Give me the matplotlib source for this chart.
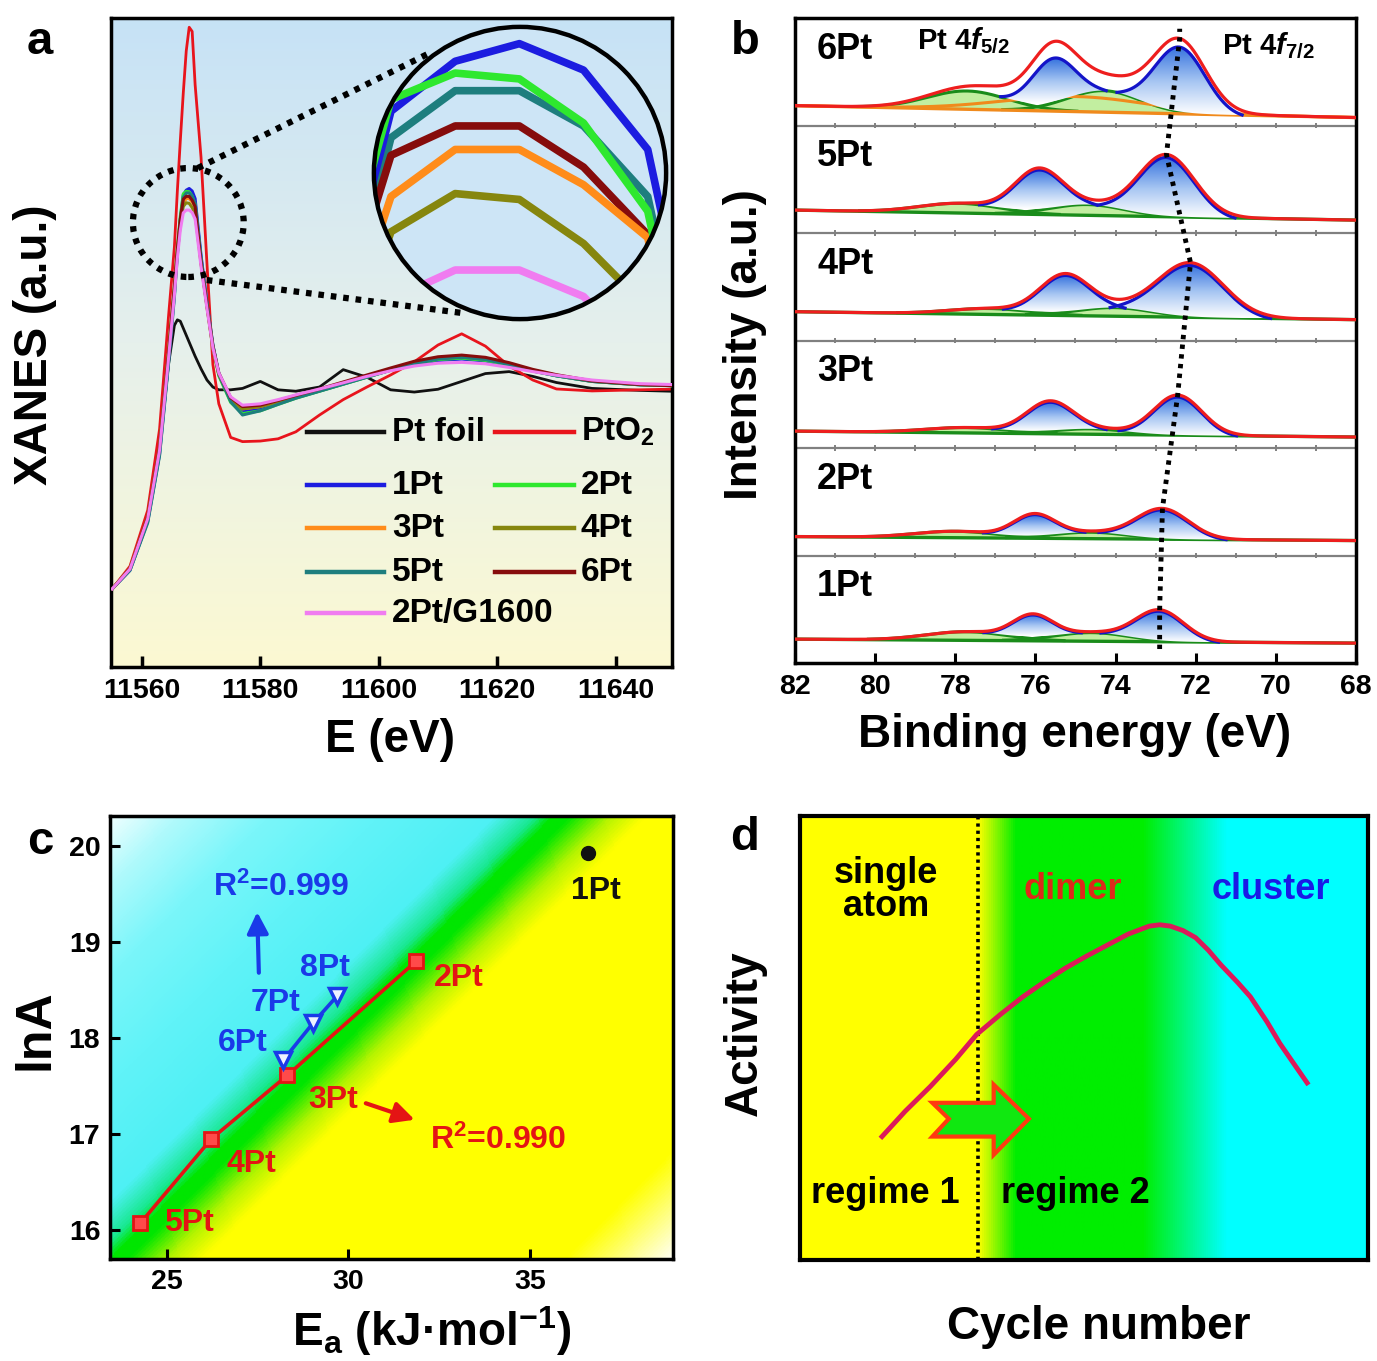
import numpy as np
import matplotlib
matplotlib.use("Agg")
import matplotlib.pyplot as plt
from matplotlib.colors import LinearSegmentedColormap
from matplotlib.patches import Ellipse, Circle, Polygon

plt.rcParams['font.family'] = ['Liberation Sans', 'DejaVu Sans']
plt.rcParams['font.weight'] = 'bold'
plt.rcParams['axes.labelweight'] = 'bold'
plt.rcParams['mathtext.fontset'] = 'custom'
plt.rcParams['mathtext.rm'] = 'Liberation Sans:bold'
plt.rcParams['mathtext.it'] = 'Liberation Sans:italic:bold'
plt.rcParams['mathtext.bf'] = 'Liberation Sans:bold'
plt.rcParams['mathtext.default'] = 'rm'

# ---------------- panel a: Pt L3-edge XANES ----------------
energy_ev = [11555, 11558, 11561, 11563, 11564.5, 11565.5, 11566, 11566.5, 11567, 11567.5,
             11568, 11568.5, 11569, 11570, 11571, 11572, 11573, 11575, 11577, 11580,
             11583, 11586, 11590, 11594, 11598, 11602, 11606, 11610, 11614, 11618,
             11622, 11626, 11630, 11636, 11644, 11651]
pt_foil = [0.279, 0.35, 0.53, 0.78, 1.08, 1.22, 1.24, 1.235, 1.21, 1.185,
           1.16, 1.135, 1.11, 1.065, 1.025, 1.0, 0.99, 0.99, 0.995, 1.02,
           0.99, 0.985, 1.0, 1.062, 1.035, 0.99, 0.982, 0.992, 1.02, 1.048,
           1.055, 1.038, 1.016, 0.995, 0.988, 0.984]
pt_o2 = [0.279, 0.36, 0.56, 0.85, 1.25, 1.5, 1.7, 1.88, 2.05, 2.2,
         2.285, 2.27, 2.08, 1.82, 1.44, 1.08, 0.94, 0.82, 0.805, 0.807,
         0.815, 0.84, 0.9, 0.955, 1.0, 1.043, 1.09, 1.15, 1.19, 1.146,
         1.075, 1.025, 0.993, 0.986, 0.99, 0.993]
xanes_1pt = [0.279, 0.345, 0.52, 0.76, 1.09, 1.33, 1.48, 1.6, 1.686, 1.703,
             1.709, 1.700, 1.673, 1.47, 1.30, 1.15, 1.05, 0.955, 0.915, 0.922,
             0.942, 0.962, 0.986, 1.011, 1.036, 1.06, 1.08, 1.095, 1.1, 1.093,
             1.077, 1.057, 1.04, 1.02, 1.008, 1.004]
xanes_2pt = [0.279, 0.35, 0.53, 0.78, 1.12, 1.36, 1.5, 1.61, 1.690, 1.699,
             1.697, 1.682, 1.652, 1.45, 1.29, 1.14, 1.04, 0.945, 0.905, 0.915,
             0.938, 0.96, 0.985, 1.01, 1.035, 1.06, 1.082, 1.098, 1.103, 1.095,
             1.078, 1.057, 1.04, 1.02, 1.008, 1.004]
xanes_3pt = [0.279, 0.352, 0.535, 0.785, 1.12, 1.35, 1.49, 1.59, 1.657, 1.673,
             1.673, 1.661, 1.643, 1.445, 1.29, 1.145, 1.045, 0.955, 0.922, 0.93,
             0.948, 0.967, 0.99, 1.015, 1.04, 1.064, 1.087, 1.103, 1.108, 1.1,
             1.083, 1.06, 1.042, 1.021, 1.009, 1.004]
xanes_4pt = [0.279, 0.352, 0.535, 0.785, 1.12, 1.35, 1.48, 1.58, 1.645, 1.658,
             1.656, 1.641, 1.619, 1.44, 1.285, 1.14, 1.045, 0.955, 0.922, 0.93,
             0.948, 0.967, 0.99, 1.015, 1.04, 1.064, 1.086, 1.102, 1.107, 1.1,
             1.083, 1.06, 1.042, 1.021, 1.009, 1.004]
xanes_5pt = [0.279, 0.345, 0.515, 0.755, 1.08, 1.32, 1.47, 1.59, 1.677, 1.693,
             1.693, 1.681, 1.657, 1.46, 1.3, 1.15, 1.045, 0.948, 0.9, 0.915,
             0.938, 0.96, 0.985, 1.01, 1.035, 1.06, 1.082, 1.1, 1.106, 1.098,
             1.08, 1.058, 1.04, 1.02, 1.008, 1.004]
xanes_6pt = [0.279, 0.352, 0.535, 0.785, 1.12, 1.36, 1.49, 1.6, 1.671, 1.681,
             1.681, 1.667, 1.644, 1.445, 1.29, 1.145, 1.05, 0.962, 0.93, 0.935,
             0.952, 0.97, 0.993, 1.018, 1.043, 1.068, 1.092, 1.108, 1.114, 1.106,
             1.087, 1.063, 1.044, 1.022, 1.009, 1.004]
xanes_g1600 = [0.279, 0.35, 0.53, 0.775, 1.1, 1.33, 1.46, 1.56, 1.622, 1.632,
               1.632, 1.623, 1.600, 1.43, 1.28, 1.14, 1.05, 0.965, 0.935, 0.94,
               0.955, 0.972, 0.993, 1.015, 1.038, 1.058, 1.075, 1.085, 1.088, 1.083,
               1.07, 1.055, 1.042, 1.025, 1.012, 1.008]

ref_names = ['Pt foil', 'PtO$_2$']
ref_colors = ['#111111', '#e8141c']
sample_names = ['1Pt', '2Pt', '3Pt', '4Pt', '5Pt', '6Pt', '2Pt/G1600']
sample_colors = ['#1c1ce0', '#2ee82e', '#ff8c1a', '#86860e', '#1e7e7e', '#860c0c', '#f07cf0']
sample_curves = [xanes_1pt, xanes_2pt, xanes_3pt, xanes_4pt, xanes_5pt, xanes_6pt, xanes_g1600]
inset_order = [4, 3, 5, 2, 0, 1, 6]  # draw order inside the zoom circle

# ---------------- panel b: Pt 4f XPS fits ----------------
xps_samples = ['1Pt', '2Pt', '3Pt', '4Pt', '5Pt', '6Pt']
f72_pos = [72.9, 72.83, 72.45, 72.13, 72.73, 72.4]
f72_amp = [0.284, 0.278, 0.37, 0.50, 0.57, 0.63]
f72_sig = [0.6, 0.65, 0.6, 0.82, 0.7, 0.64]
f52_pos = [76.07, 76.03, 75.65, 75.28, 75.93, 75.55]
f52_amp = [0.21, 0.204, 0.275, 0.35, 0.38, 0.42]
f52_sig = [0.5, 0.52, 0.58, 0.62, 0.6, 0.54]
sat1_pos = [77.73, 78.0, 77.73, 77.15, 77.9, 77.7]
sat1_amp = [0.08, 0.06, 0.05, 0.055, 0.09, 0.17]
sat2_pos = [74.6, 74.63, 74.63, 74.03, 74.7, 74.3]
sat2_amp = [0.08, 0.06, 0.05, 0.08, 0.10, 0.20]
bg_left = [0.222, 0.176, 0.157, 0.268, 0.213, 0.185]
bg_right = [0.185, 0.139, 0.102, 0.194, 0.12, 0.074]
extra_amp = [0, 0, 0, 0, 0, 0.14]
bg_colors = ['#1a8c1a'] * 5 + ['#f08a1c']

# ---------------- panel c: compensation plot ----------------
ea_red = [24.27, 26.23, 28.32, 31.87]
lna_red = [16.07, 16.95, 17.61, 18.80]
red_labels = ['5Pt', '4Pt', '3Pt', '2Pt']
ea_blue = [28.21, 29.04, 29.70]
lna_blue = [17.77, 18.16, 18.44]
blue_labels = ['6Pt', '7Pt', '8Pt']
ea_1pt, lna_1pt = 36.61, 19.92

# ---------------- panel d: activity scheme ----------------
cycle_pts = [0.1444, 0.1852, 0.2296, 0.2741, 0.3111, 0.3519, 0.3926, 0.4298, 0.4668, 0.5039,
             0.5408, 0.5778, 0.6149, 0.6335, 0.6519, 0.6743, 0.6965, 0.7187, 0.7408, 0.7706,
             0.7928, 0.8224, 0.8447, 0.8706, 0.8928]
activity_pts = [0.278, 0.335, 0.391, 0.452, 0.508, 0.552, 0.593, 0.626, 0.657, 0.684,
                0.709, 0.734, 0.752, 0.755, 0.752, 0.742, 0.726, 0.698, 0.665, 0.625,
                0.593, 0.536, 0.488, 0.440, 0.399]


def gauss(x, c, a, s):
    return a * np.exp(-0.5 * ((x - c) / s) ** 2)


W, H = 1377, 1361
fig = plt.figure(figsize=(W / 100, H / 100), dpi=100)


def box(l, r, t, b):
    return [l / W, 1 - b / H, (r - l) / W, (b - t) / H]


def frame(ax, lw=2.5):
    for s in ax.spines.values():
        s.set_linewidth(lw)


# ======== a ========
ax_a = fig.add_axes(box(111, 672, 18, 667))
xa, ya = (11554.8, 11649.5), (0, 2.318)
bg_a = LinearSegmentedColormap.from_list('bga', ['#fcf9d2', '#e6f0ec', '#c6e2f6'])
ax_a.imshow(np.linspace(0, 1, 256).reshape(-1, 1), cmap=bg_a, origin='lower', aspect='auto',
            extent=[*xa, *ya], zorder=0)
for vals, c in zip([pt_foil, pt_o2], ref_colors):
    ax_a.plot(energy_ev, vals, color=c, lw=2, zorder=2)
for vals, c in zip(sample_curves, sample_colors):
    ax_a.plot(energy_ev, vals, color=c, lw=2.2, zorder=3)
ax_a.add_patch(Ellipse((11567.85, 1.5875), 18.7, 0.389, fill=False, ec='k', lw=4.5,
                       ls=(0, (0.9, 1.1)), zorder=5))
ax_a.plot([11569.45, 11608.6], [1.782, 2.193], color='k', lw=4.5, ls=(0, (0.9, 1.1)), zorder=5)
ax_a.plot([11570.97, 11614.2], [1.382, 1.264], color='k', lw=4.5, ls=(0, (0.9, 1.1)), zorder=5)
ax_a.set_xlim(*xa)
ax_a.set_ylim(*ya)
ax_a.set_xticks([11560, 11580, 11600, 11620, 11640])
ax_a.set_yticks([])
ax_a.tick_params(axis='x', direction='in', length=8, width=2.5, labelsize=20.5, pad=8)
frame(ax_a)
ax_a.set_xlabel('E (eV)', fontsize=33)
ax_a.xaxis.label.set_va('center')
ax_a.xaxis.set_label_coords(0.497, -0.113)
ax_a.set_ylabel('XANES (a.u.)', fontsize=33)
ax_a.yaxis.label.set_va('center')
ax_a.yaxis.set_label_coords(-0.136, 0.496)

# legend drawn by hand: two columns, uneven last row
rows_y = [0.362, 0.280, 0.214, 0.146, 0.083]
entries = [(ref_names[0], ref_colors[0]), (ref_names[1], ref_colors[1])]
entries += list(zip(sample_names, sample_colors))
for k, (name, c) in enumerate(entries):
    r, col = k // 2, k % 2
    x0, x1, xt = (0.349, 0.487, 0.501) if col == 0 else (0.684, 0.826, 0.837)
    ax_a.plot([x0, x1], [rows_y[r]] * 2, color=c, lw=3.2, transform=ax_a.transAxes, zorder=6)
    ax_a.text(xt, rows_y[r], name, transform=ax_a.transAxes, fontsize=24, va='center', ha='left', zorder=6)

# zoom circle
ax_in = fig.add_axes(box(373, 667, 26, 320))
ax_in.set_xlim(11566.86, 11569.15)
ax_in.set_ylim(1.615, 1.715)
ax_in.axis('off')
disc = Circle((0.5, 0.5), 0.5, transform=ax_in.transAxes, fc='#cde5f6', ec='none', zorder=0)
ax_in.add_patch(disc)
for k in inset_order:
    ln, = ax_in.plot(energy_ev, sample_curves[k], color=sample_colors[k], lw=5.5, zorder=2)
    ln.set_clip_path(disc)
ax_in.add_patch(Circle((0.5, 0.5), 0.497, transform=ax_in.transAxes, fill=False, ec='k', lw=3.2,
                       zorder=4, clip_on=False))

# ======== b ========
ax_b = fig.add_axes(box(795, 1356, 18, 663))
be = np.linspace(82, 68, 1400)
grad = np.linspace(0, 1, 128).reshape(-1, 1)
blue_fill = LinearSegmentedColormap.from_list('bf', ['#ffffff', '#a4c4f2', '#3572de'])
peak_tops = []
for i, name in enumerate(xps_samples):
    bg = i + bg_left[i] + (bg_right[i] - bg_left[i]) * (82 - be) / 14
    g1 = gauss(be, sat1_pos[i], sat1_amp[i], 1.0)
    g2 = gauss(be, sat2_pos[i], sat2_amp[i], 0.9)
    gsum = g1 + g2
    b1 = gauss(be, f52_pos[i], f52_amp[i], f52_sig[i])
    b2 = gauss(be, f72_pos[i], f72_amp[i], f72_sig[i])
    ex = gauss(be, 75.0, extra_amp[i], 1.8)
    total = bg + gsum + b1 + b2 + ex
    for g in (g1, g2):
        m = g > 0.004
        ax_b.fill_between(be[m], bg[m], bg[m] + g[m], color='#c2eea0', lw=0, zorder=2)
        ax_b.plot(be[m], bg[m] + g[m], color='#1a8c1a', lw=2.2, zorder=3)
    if extra_amp[i] > 0:
        ax_b.plot(be, bg + ex, color='#f08a1c', lw=2.2, zorder=3)
    ax_b.plot(be, bg, color=bg_colors[i], lw=2.4, zorder=3)
    for b, amp in ((b1, f52_amp[i]), (b2, f72_amp[i])):
        thr = 0.05 * amp
        m = b > thr
        base = bg[m] + gsum[m]
        top = base + b[m] - thr  # ends of each peak sit on the satellite curve
        poly = ax_b.fill_between(be[m], base, top, facecolor='none', edgecolor='none', zorder=3)
        im = ax_b.imshow(grad, cmap=blue_fill, origin='lower', aspect='auto', zorder=3,
                         extent=[be[m].min(), be[m].max(), base.min(), top.max()])
        im.set_clip_path(poly.get_paths()[0], transform=ax_b.transData)
        ax_b.plot(be[m], top, color='#1414c8', lw=2.3, zorder=4)
    ax_b.plot(be, total, color='#ee1e1e', lw=2.3, zorder=5)
    peak_tops.append(np.interp(f72_pos[i], be[::-1], total[::-1]))
    ax_b.text(81.45, i + 0.71, name, fontsize=26, va='center', ha='left', zorder=6)
for k in range(1, 6):
    ax_b.axhline(k, color='#808080', lw=1.6, zorder=1)
    ax_b.vlines(np.arange(69, 82), k - 0.025, k + 0.025, color='#808080', lw=1.4, zorder=1)
ax_b.plot([f72_pos[0]] + f72_pos + [f72_pos[-1]], [0.13] + peak_tops + [5.9],
          color='k', lw=3.5, ls=(0, (0.9, 1.1)), zorder=7)
ax_b.text(77.8, 5.79, 'Pt 4$\\mathit{f}_{5/2}$', fontsize=21, ha='center', va='center', zorder=6)
ax_b.text(70.2, 5.74, 'Pt 4$\\mathit{f}_{7/2}$', fontsize=21, ha='center', va='center', zorder=6)
ax_b.set_xlim(82, 68)
ax_b.set_ylim(0, 6)
ax_b.set_xticks(np.arange(82, 67, -2))
ax_b.set_yticks([])
ax_b.tick_params(axis='x', direction='in', length=7, width=2.2, labelsize=20.5, pad=8)
frame(ax_b)
ax_b.set_xlabel('Binding energy (eV)', fontsize=33)
ax_b.xaxis.label.set_va('center')
ax_b.xaxis.set_label_coords(0.499, -0.112)
ax_b.set_ylabel('Intensity (a.u.)', fontsize=33)
ax_b.yaxis.label.set_va('center')
ax_b.yaxis.set_label_coords(-0.089, 0.493)

# ======== c ========
ax_c = fig.add_axes(box(110, 673, 816, 1259))
xc, yc = (23.44, 38.94), (15.70, 20.31)
uu, ww = np.meshgrid(np.linspace(0, 1, 420), np.linspace(0, 1, 340))
dist = (uu * 563 - 5 - ww * 443) / np.sqrt(2)
stops = [(0.0, '#f2ffff'), (0.07, '#b0fafc'), (0.16, '#7af6fa'), (0.27, '#60f3f8'), (0.385, '#4ef0f4'),
         (0.425, '#18e890'), (0.443, '#00e600'), (0.46, '#00e600'), (0.5, '#b4f400'),
         (0.535, '#ffff00'), (0.895, '#ffff00'), (1.0, '#fffff2')]
bg_c = LinearSegmentedColormap.from_list('bgc', stops)
ax_c.imshow(dist, cmap=bg_c, norm=plt.Normalize(-320, 395), origin='lower', aspect='auto',
            extent=[*xc, *yc], zorder=0)
ax_c.plot(ea_red, lna_red, '-', color='#e41414', lw=2.6, zorder=3)
ax_c.plot(ea_red, lna_red, 's', color='#e41414', mfc='#ff4a4a', mec='#e41414', ms=9.5, mew=2, zorder=4)
ax_c.plot(ea_blue, lna_blue, '-', color='#1a3ae8', lw=2.6, zorder=3)
ax_c.plot(ea_blue, lna_blue, 'v', mfc='#eef2ff', mec='#1a3ae8', ms=11, mew=2.5, zorder=4)
ax_c.plot([ea_1pt], [lna_1pt], 'o', color='#111111', ms=10, zorder=4)
red_txt = [(25.6, 16.07), (27.33, 16.69), (29.58, 17.35), (33.03, 18.62)]
for lab, (tx, ty) in zip(red_labels, red_txt):
    ax_c.text(tx, ty, lab, color='#e41414', fontsize=23, ha='center', va='center', zorder=5)
blue_txt = [(27.1, 17.95), (27.99, 18.36), (29.36, 18.73)]
for lab, (tx, ty) in zip(blue_labels, blue_txt):
    ax_c.text(tx, ty, lab, color='#1a3ae8', fontsize=23, ha='center', va='center', zorder=5)
ax_c.text(36.83, 19.53, '1Pt', color='#111111', fontsize=23, ha='center', va='center', zorder=5)
ax_c.text(28.15, 19.57, 'R$^2$=0.999', color='#1a3ae8', fontsize=23, ha='center', va='center', zorder=5)
ax_c.text(34.13, 16.93, 'R$^2$=0.990', color='#e41414', fontsize=23, ha='center', va='center', zorder=5)
ax_c.annotate('', xy=(27.49, 19.34), xytext=(27.54, 18.65),
              arrowprops=dict(arrowstyle='-|>', color='#1a3ae8', lw=3, mutation_scale=32), zorder=5)
ax_c.annotate('', xy=(31.9, 17.14), xytext=(30.41, 17.33),
              arrowprops=dict(arrowstyle='-|>', color='#e41414', lw=3, mutation_scale=32), zorder=5)
ax_c.set_xlim(*xc)
ax_c.set_ylim(*yc)
ax_c.set_xticks([25, 30, 35])
ax_c.set_yticks([16, 17, 18, 19, 20])
ax_c.tick_params(direction='in', length=7, width=2.2, labelsize=20.5, pad=7)
frame(ax_c)
ax_c.set_xlabel('E$_\\mathrm{a}$ (kJ·mol$^{\\mathrm{-1}}$)', fontsize=33)
ax_c.xaxis.label.set_va('center')
ax_c.xaxis.set_label_coords(0.572, -0.162)
ax_c.set_ylabel('lnA', fontsize=36)
ax_c.yaxis.label.set_va('center')
ax_c.yaxis.set_label_coords(-0.133, 0.517)

# ======== d ========
ax_d = fig.add_axes(box(800, 1368, 816, 1260))
bg_d = LinearSegmentedColormap.from_list('bgd', [(0.0, '#ffff00'), (0.313, '#ffff00'), (0.38, '#00ee00'),
                                                 (0.604, '#00ee00'), (0.752, '#00ffff'), (1.0, '#00ffff')])
ax_d.imshow(np.linspace(0, 1, 512).reshape(1, -1), cmap=bg_d, aspect='auto', extent=[0, 1, 0, 1], zorder=0)
ax_d.axvline(0.313, color='k', lw=2.6, ls=(0, (0.9, 1.1)), zorder=2)
ax_d.plot(cycle_pts, activity_pts, color='#dc1a5a', lw=3.5, zorder=3, solid_joinstyle='round')
arrow_shape = [(0.233, 0.354), (0.341, 0.354), (0.341, 0.395), (0.403, 0.318), (0.341, 0.237),
               (0.341, 0.278), (0.233, 0.278), (0.262, 0.318)]
ax_d.add_patch(Polygon(arrow_shape, closed=True, fc='#10e810', ec='#ff3a10', lw=3, zorder=4))
ax_d.text(0.151, 0.833, 'single\natom', fontsize=26, ha='center', va='center', linespacing=0.95, zorder=5)
ax_d.text(0.481, 0.834, 'dimer', color='#dd2a1a', fontsize=26, ha='center', va='center', zorder=5)
ax_d.text(0.829, 0.834, 'cluster', color='#1a1ae6', fontsize=26, ha='center', va='center', zorder=5)
ax_d.text(0.151, 0.150, 'regime 1', fontsize=26, ha='center', va='center', zorder=5)
ax_d.text(0.485, 0.150, 'regime 2', fontsize=26, ha='center', va='center', zorder=5)
ax_d.set_xlim(0, 1)
ax_d.set_ylim(0, 1)
ax_d.set_xticks([])
ax_d.set_yticks([])
frame(ax_d, 3)
ax_d.set_xlabel('Cycle number', fontsize=33)
ax_d.xaxis.label.set_va('center')
ax_d.xaxis.set_label_coords(0.526, -0.151)
ax_d.set_ylabel('Activity', fontsize=33)
ax_d.yaxis.label.set_va('center')
ax_d.yaxis.set_label_coords(-0.097, 0.511)

for lab, (px, py) in zip('abcd', [(40, 42), (745, 42), (40, 842), (745, 838)]):
    fig.text(px / W, 1 - py / H, lab, fontsize=34, ha='center', va='center')

fig.savefig('out.png', dpi=100)
